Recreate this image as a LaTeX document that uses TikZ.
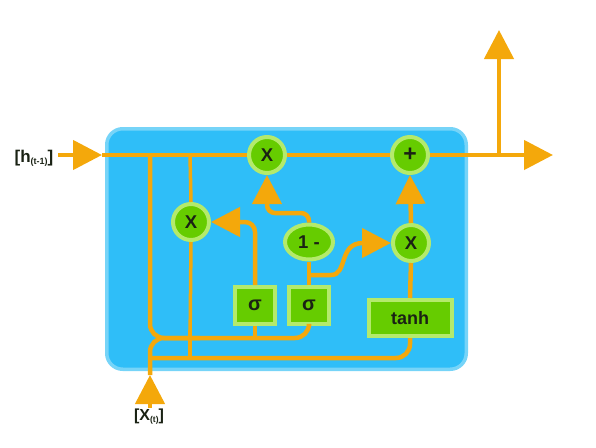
\documentclass[tikz,border=0pt]{standalone}
\usepackage{fontspec}
\setmainfont{Liberation Sans}
\usetikzlibrary{arrows.meta,shapes.geometric}
\definecolor{org}{HTML}{F4A80B}
\definecolor{blu}{HTML}{2FBEF8}
\definecolor{lblu}{HTML}{76D4F8}
\definecolor{grn}{HTML}{66CC00}
\definecolor{lgrn}{HTML}{B4EA6C}
\definecolor{txt}{HTML}{1A2214}
\begin{document}
\begin{tikzpicture}[x=1pt,y=-1pt,
  wire/.style={draw=org,line width=4.5pt},
  thinwire/.style={draw=org,line width=3.5pt},
  arr/.style={-{Triangle[length=29pt,width=29pt]}},
  gatefont/.style={font=\fontsize{18.5}{18.5}\selectfont\bfseries,text=txt},
  gate/.style={circle,fill=grn,draw=lgrn,line width=4pt,minimum size=36pt,inner sep=0pt,gatefont},
  oval/.style={ellipse,fill=grn,draw=lgrn,line width=4pt,minimum width=48pt,minimum height=35pt,inner sep=0pt,gatefont},
  layer/.style={rectangle,fill=grn,draw=lgrn,line width=4pt,inner sep=0pt,gatefont},
  lbl/.style={inner sep=0pt,font=\fontsize{17}{17}\selectfont\bfseries,text=txt}
]
\useasboundingbox (0,0) rectangle (596,447);
% cell body
\draw[fill=blu,draw=lblu,line width=3.5pt,rounded corners=16pt] (106.75,128.75) rectangle (466.25,369.25);

% nodes
\node[gate] (X1) at (267,155) {X};
\node[gate,font=\fontsize{23}{23}\selectfont\bfseries] (P) at (410,155) {+};
\node[gate] (X2) at (191,222) {X};
\node[gate] (X3) at (411,243) {X};
\node[oval] (E) at (309,242) {1 -};
\node[layer,minimum width=40pt,minimum height=37pt,font=\fontsize{20}{20}\selectfont\bfseries] (S1) at (255,305.5) {σ};
\node[layer,minimum width=40pt,minimum height=37pt,font=\fontsize{20}{20}\selectfont\bfseries] (S2) at (309,305.5) {σ};
\node[layer,minimum width=83pt,minimum height=36pt,font=\fontsize{18}{18}\selectfont\bfseries] (T) at (410,318) {tanh};

% coordinates
\coordinate (hin) at (58,155);
\coordinate (hend) at (102,155);
\coordinate (out) at (553,155);
\coordinate (br) at (499,155);
\coordinate (up) at (499,30);
\coordinate (va) at (150,155);
\coordinate (vb) at (190,155);
\coordinate (busA) at (0,338);
\coordinate (busB) at (0,358);
\coordinate (mid) at (0,213);
\coordinate (xin) at (150,408);
\coordinate (xtip) at (150,375);
\coordinate (fork) at (309,275);

% main line
\draw[wire,arr] (hin) -- (hend);
\draw[wire] (hend) -- (X1);
\draw[wire] (X1) -- (P);
\draw[wire,arr] (P) -- (out);
\draw[wire,arr] (br) -- (up);

% left bus to sigmas
\draw[wire,rounded corners=14pt] (va) -- (va |- busA) -- (S2.south |- busA) -- (S2.south);
\draw[wire] (S1.south) -- (S1.south |- busA);

% x input
\draw[wire,arr] (xin) -- (xtip);
\draw[wire,rounded corners=14pt] (xtip) -- (xtip |- busA) -- ([xshift=50pt]xtip |- busA);
\draw[wire,rounded corners=14pt] (xtip |- busB) -- (T.south |- busB) -- (T.south);

% reset path
\draw[thinwire] (vb) -- (X2.north);
\draw[thinwire] (X2.south) -- ([yshift=-7pt]vb |- busA);
\draw[thinwire] ([yshift=8pt]vb |- busA) -- (vb |- busB);

\draw[wire,arr,rounded corners=10pt] (S1.north) |- (X2.east);
\draw[wire,arr,rounded corners=8pt] (E.north) -- (E.north |- mid) -- (X1.south |- mid) -- (X1.south);
\draw[wire] (S2.north) -- (E.south);
\draw[wire,arr] (fork) -- (331,275) .. controls (348,275) and (338,243) .. (X3.west);
\draw[wire] (T.north) -- (X3.south);
\draw[wire,arr] (X3.north) -- (P.south);

% labels
\node[lbl] (hl) at (34,158) {[h\raisebox{-2pt}{\fontsize{9}{9}\selectfont(t-1)}]};
\node[lbl,font=\fontsize{16}{16}\selectfont\bfseries] (xl) at (149,417) {[X\raisebox{-2pt}{\fontsize{8.5}{8.5}\selectfont(t)}]};
\end{tikzpicture}
\end{document}
